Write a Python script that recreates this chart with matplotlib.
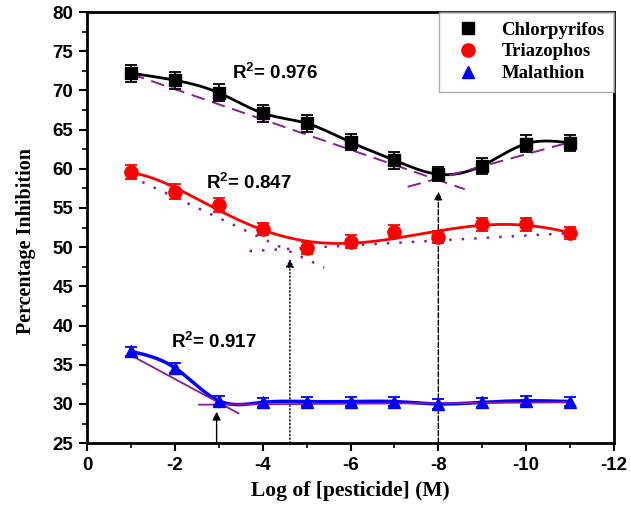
"""Inhibition vs. log pesticide concentration for three organophosphates."""
import numpy as np
import matplotlib
matplotlib.use("Agg")
import matplotlib.pyplot as plt
from matplotlib.lines import Line2D
from matplotlib.ticker import MultipleLocator

plt.rcParams['mathtext.fontset'] = 'custom'
plt.rcParams['mathtext.rm'] = 'Liberation Sans:bold'
plt.rcParams['mathtext.bf'] = 'Liberation Sans:bold'
plt.rcParams['mathtext.default'] = 'bf'
plt.rcParams['axes.unicode_minus'] = False

# log of molar concentration
log_conc = [-1, -2, -3, -4, -5, -6, -7, -8, -9, -10, -11]

chlorpyrifos = [72.2, 71.3, 69.7, 67.1, 65.8, 63.4, 61.1, 59.3, 60.4, 63.2, 63.3]
chlorpyrifos_err = [1.1, 1.1, 1.1, 1.1, 1.1, 1.0, 1.1, 0.9, 1.0, 1.1, 1.0]
triazophos = [59.6, 57.1, 55.4, 52.3, 49.9, 50.7, 52.0, 51.3, 52.9, 52.9, 51.8]
triazophos_err = [0.9, 0.9, 0.9, 0.8, 0.8, 0.8, 0.8, 0.8, 0.8, 0.8, 0.8]
malathion = [36.7, 34.6, 30.4, 30.2, 30.3, 30.3, 30.3, 30.0, 30.2, 30.4, 30.3]
malathion_err = [0.6, 0.6, 0.6, 0.6, 0.6, 0.6, 0.6, 0.6, 0.6, 0.6, 0.6]

# two-segment linear fits (x ends, y ends)
chl_fit_a = ([-1, -8.6], [72.1, 57.4])
chl_fit_b = ([-7.3, -11], [57.7, 63.4])
tri_fit_a = ([-1, -5.4], [59.0, 47.4])
tri_fit_b = ([-3.7, -11], [49.5, 51.8])
mal_fit_a = ([-1, -3.45], [36.2, 28.8])
mal_fit_b = ([-2.55, -11], [29.9, 30.2])

# breakpoint arrows: x position, tip height, line style
arrow_x = [-2.95, -4.62, -8.0]
arrow_tip = [29.0, 48.5, 57.1]
arrow_style = ['-', ':', '--']

r2_labels = ['R$^2$= 0.976', 'R$^2$= 0.847', 'R$^2$= 0.917']
r2_pos = [(-3.3, 72.2), (-2.7, 58.2), (-1.9, 37.9)]


def natural_spline(x, y, xs):
    x = np.asarray(x, float)
    y = np.asarray(y, float)
    n = len(x)
    h = np.diff(x)
    A = np.zeros((n, n))
    r = np.zeros(n)
    A[0, 0] = A[-1, -1] = 1.0
    for i in range(1, n - 1):
        A[i, i - 1] = h[i - 1]
        A[i, i] = 2 * (h[i - 1] + h[i])
        A[i, i + 1] = h[i]
        r[i] = 6 * ((y[i + 1] - y[i]) / h[i] - (y[i] - y[i - 1]) / h[i - 1])
    M = np.linalg.solve(A, r)
    idx = np.clip(np.searchsorted(x, xs) - 1, 0, n - 2)
    x0, x1 = x[idx], x[idx + 1]
    hh = x1 - x0
    a = (x1 - xs) / hh
    b = (xs - x0) / hh
    return (a * y[idx] + b * y[idx + 1]
            + ((a ** 3 - a) * M[idx] + (b ** 3 - b) * M[idx + 1]) * hh ** 2 / 6)


t = -np.array(log_conc, float)
ts = np.linspace(t[0], t[-1], 300)

fig = plt.figure(figsize=(6.31, 5.25), dpi=100)
ax = fig.add_axes([0.138, 0.156, 0.835, 0.821])

# smooth curves
ax.plot(-ts, natural_spline(t, chlorpyrifos, ts), color='black', lw=2.0, zorder=3)
tri_poly = np.polyfit(t, triazophos, 5)
ax.plot(-ts, np.polyval(tri_poly, ts), color='#ff0000', lw=2.0, zorder=3)
ax.plot(-ts, natural_spline(t, malathion, ts), color='#0000ff', lw=2.5, zorder=3)

# linear segments
purple = '#8b1a9b'
for seg in (chl_fit_a, chl_fit_b):
    ax.plot(seg[0], seg[1], color=purple, lw=1.4, dashes=(7, 4), zorder=4)
for seg in (tri_fit_a, tri_fit_b):
    ax.plot(seg[0], seg[1], color=purple, lw=1.8, dashes=(1, 4), zorder=4)
for seg in (mal_fit_a, mal_fit_b):
    ax.plot(seg[0], seg[1], color=purple, lw=1.3, zorder=4)

# data points with error bars
ax.errorbar(log_conc, chlorpyrifos, yerr=chlorpyrifos_err, fmt='s', color='black',
            ms=8.5, capsize=4, elinewidth=1.3, capthick=1.3, zorder=5)
ax.errorbar(log_conc, triazophos, yerr=triazophos_err, fmt='o', color='#ff0000',
            ms=9.5, capsize=4, elinewidth=1.3, capthick=1.3, zorder=5)
ax.errorbar(log_conc, malathion, yerr=malathion_err, fmt='^', color='#0000ff',
            ms=9, capsize=4, elinewidth=1.3, capthick=1.3, zorder=5)

# breakpoint arrows
for xa, tip, ls in zip(arrow_x, arrow_tip, arrow_style):
    ax.annotate('', xy=(xa, tip), xytext=(xa, 25),
                arrowprops=dict(arrowstyle='-|>', color='black', lw=1.0,
                                linestyle=ls, mutation_scale=12,
                                shrinkA=0, shrinkB=0), zorder=2)

for label, (xp, yp) in zip(r2_labels, r2_pos):
    ax.text(xp, yp, label, ha='left', va='center', fontsize=13.5,
            family='Liberation Sans', fontweight='bold')

ax.set_xlim(0, -12)
ax.set_ylim(25, 80)
ax.xaxis.set_major_locator(MultipleLocator(2))
ax.xaxis.set_minor_locator(MultipleLocator(1))
ax.yaxis.set_major_locator(MultipleLocator(5))
ax.yaxis.set_minor_locator(MultipleLocator(2.5))
ax.tick_params(which='major', direction='out', length=6, width=1.5, pad=4)
ax.tick_params(which='minor', direction='out', length=3.5, width=1.2)
for lab in ax.get_xticklabels() + ax.get_yticklabels():
    lab.set_fontfamily('Liberation Sans')
    lab.set_fontweight('bold')
    lab.set_fontsize(13.5)
for sp in ax.spines.values():
    sp.set_linewidth(2)

ax.set_xlabel('Log of [pesticide] (M)', family='Liberation Serif',
              fontweight='bold', fontsize=15.5)
ax.set_ylabel('Percentage Inhibition', family='Liberation Serif',
              fontweight='bold', fontsize=14.5)
ax.xaxis.set_label_coords(0.5, -0.088)
ax.yaxis.set_label_coords(-0.096, 0.47)

handles = [
    Line2D([], [], ls='none', marker='s', color='black', ms=8.5),
    Line2D([], [], ls='none', marker='o', color='#ff0000', ms=9.5),
    Line2D([], [], ls='none', marker='^', color='#0000ff', ms=9),
]
leg = ax.legend(handles, ['Chlorpyrifos', 'Triazophos', 'Malathion'],
                loc='upper right', borderaxespad=0, fancybox=False,
                prop={'family': 'Liberation Serif', 'weight': 'bold', 'size': 13.5},
                handletextpad=0.8, labelspacing=0.25, borderpad=0.5)
leg.get_frame().set_edgecolor('#999999')
leg.get_frame().set_linewidth(1.0)

fig.savefig('out.png', dpi=100, facecolor='white')
